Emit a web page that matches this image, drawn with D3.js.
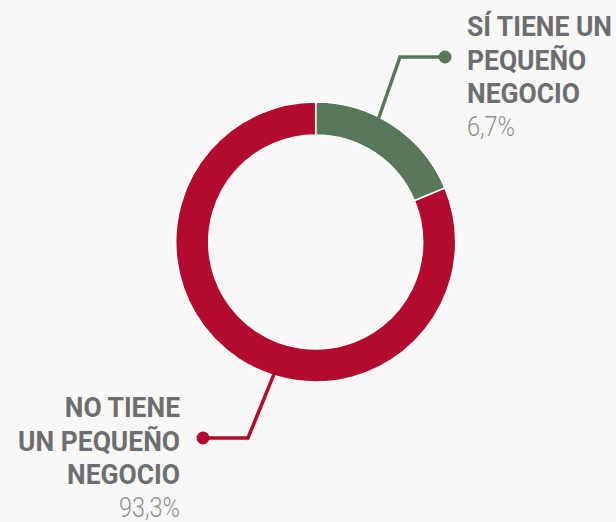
<!DOCTYPE html>
<html><head><meta charset="utf-8">
<script src="https://cdn.jsdelivr.net/npm/d3@7"></script>
<style>
html,body{margin:0;padding:0;background:#f9f8f6;}
svg{display:block;}
</style></head>
<body>
<script>
// Data
const categories = ["SÍ TIENE UN PEQUEÑO NEGOCIO", "NO TIENE UN PEQUEÑO NEGOCIO"];
const labelLines = [["SÍ TIENE UN", "PEQUEÑO", "NEGOCIO"], ["NO TIENE", "UN PEQUEÑO", "NEGOCIO"]];
const percentLabels = ["6,7%", "93,3%"];
// slice shares as drawn in the picture
const sliceShares = [18.7, 81.3];
const colors = ["#57795a", "#b30b2e"];

const W = 616, H = 522;
const cx = 315.7, cy = 242, rOuter = 140, rInner = 107;

const svg = d3.select("body").append("svg").attr("width", W).attr("height", H);
svg.append("rect").attr("width", W).attr("height", H).attr("fill", "#f9f8f6");

const pie = d3.pie().sort(null).value(d => d);
const arcs = pie(sliceShares);
const arc = d3.arc().innerRadius(rInner).outerRadius(rOuter);

const g = svg.append("g").attr("transform", `translate(${cx},${cy})`);
g.selectAll("path").data(arcs).enter().append("path")
  .attr("d", arc)
  .attr("fill", (d, i) => colors[i])
  .attr("stroke", "#ffffff")
  .attr("stroke-width", 1.5);

// leader lines
function pt(angleDeg, r) {
  const a = angleDeg * Math.PI / 180;
  return [cx + r * Math.sin(a), cy - r * Math.cos(a)];
}
const leaders = [
  { start: pt(27, 138), elbow: [400, 57], end: [445, 57] },
  { start: pt(197.5, 138), elbow: [248, 438], end: [203, 438] }
];
leaders.forEach((l, i) => {
  svg.append("polyline")
    .attr("points", [l.start, l.elbow, l.end].map(p => p.join(",")).join(" "))
    .attr("fill", "none")
    .attr("stroke", colors[i])
    .attr("stroke-width", 3.5)
    .attr("stroke-linejoin", "miter");
  svg.append("circle").attr("cx", l.end[0]).attr("cy", l.end[1]).attr("r", 6.5).attr("fill", colors[i]);
});

// labels (condensed by horizontal scaling)
const labelPos = [
  { x: 467, y0: 36, anchor: "start" },
  { x: 180, y0: 417, anchor: "end" }
];
const lh = 33.7;

// measure condense factor from first green line (target width ~145px)
const probe = svg.append("text").attr("font-family", "Roboto, sans-serif")
  .attr("font-weight", "bold").attr("font-size", 28).text(labelLines[0][0]);
const boldScale = 145 / probe.node().getComputedTextLength();
probe.remove();
const probe2 = svg.append("text").attr("font-family", "Roboto, sans-serif")
  .attr("font-weight", 300).attr("font-size", 27).text(percentLabels[0]);
const lightScale = 48 / probe2.node().getComputedTextLength();
probe2.remove();

labelPos.forEach((p, i) => {
  const gb = svg.append("g").attr("transform", `translate(${p.x},0) scale(${boldScale},1)`);
  const t = gb.append("text")
    .attr("text-anchor", p.anchor)
    .attr("font-family", "Roboto, sans-serif")
    .attr("font-weight", "bold")
    .attr("font-size", 28)
    .attr("fill", "#6d6e71");
  labelLines[i].forEach((line, j) => {
    t.append("tspan").attr("x", 0).attr("y", p.y0 + j * lh).text(line);
  });
  svg.append("g").attr("transform", `translate(${p.x},0) scale(${lightScale},1)`)
    .append("text")
    .attr("text-anchor", p.anchor)
    .attr("x", 0)
    .attr("y", p.y0 + 3 * lh - 1)
    .attr("font-family", "Roboto, sans-serif")
    .attr("font-weight", 300)
    .attr("font-size", 27)
    .attr("fill", "#8f9092")
    .text(percentLabels[i]);
});
</script>
</body></html>
